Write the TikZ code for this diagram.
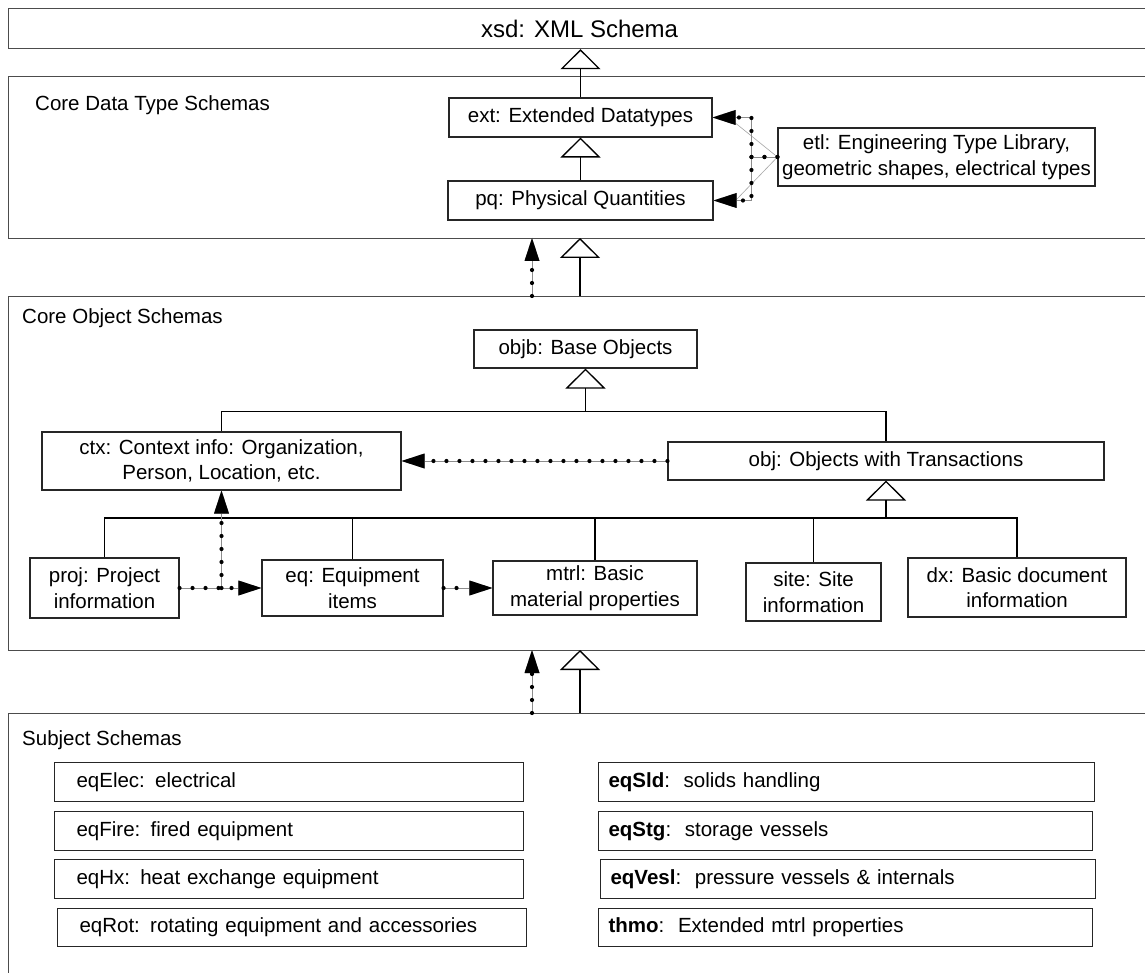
\documentclass[tikz,border=0pt]{standalone}
\usepackage{fontspec}
\setmainfont{Liberation Sans}
\usetikzlibrary{arrows.meta}
\begin{document}
\begin{tikzpicture}[x=1pt,y=-1pt,
  font=\fontsize{20.5}{25.5}\selectfont,
  every node/.style={inner sep=0pt},
  box/.style={draw=black!85, line width=1.1pt, fill=white, align=center},
  frame/.style={draw=black!70, line width=1.2pt, anchor=north west, minimum width=1142pt},
  heading/.style={anchor=west},
  sboxL/.style={draw=black!85, line width=1.1pt, anchor=north west, minimum height=39pt, inner xsep=22pt, text width=425pt, align=left},
  sboxR/.style={draw=black!85, line width=1.1pt, anchor=north west, minimum height=39pt, inner xsep=10pt, text width=476pt, align=left},
  gen/.style={draw=black, line width=1.3pt, -{Triangle[open,length=20pt,width=40pt,line width=1.3pt]}},
  dep/.style={draw=black, line width=4.2pt, line cap=round, dash pattern=on 0pt off 13pt,
    preaction={draw=black!45, line width=0.7pt, solid},
    -{Triangle[length=23pt,width=15pt,line width=0pt]}},
  link/.style={draw=black, line width=1.2pt},
  faint/.style={draw=black!35, line width=0.6pt},
]
\useasboundingbox (0,0) rectangle (1145,973);
\fill[white] (0,0) rectangle (1145,973);

% frames
\node[frame, minimum height=40pt, font=\fontsize{24}{28}\selectfont] (xsd) at (8,8) {xsd: XML Schema};
\node[frame, minimum height=162pt] (coredt) at (8,76) {};
\node[frame, minimum height=354pt] (coreobj) at (8,296) {};
\node[frame, minimum height=290pt] (subj) at (8,713) {};

\node[heading] (hCD) at (35,105) {Core Data Type Schemas};
\node[heading] (hCO) at (22,318) {Core Object Schemas};
\node[heading] (hSS) at (22,740) {Subject Schemas};

% core data types
\node[box, minimum width=263pt, minimum height=39pt] (ext) at (580.5,117.5) {ext: Extended Datatypes};
\node[box, minimum width=265pt, minimum height=39pt] (pq) at (580.5,200.5) {pq: Physical Quantities};
\node[box, minimum width=317pt, minimum height=58pt] (etl) at (936.5,157) {etl: Engineering Type Library,\\geometric shapes, electrical types};

\draw[gen] (ext.north) -- (xsd.south -| ext.north);
\draw[gen] (pq.north) -- (ext.south -| pq.north);
\draw[faint] (etl.west) -- ([shift={(11,-4)}]ext.east);
\draw[faint] (etl.west) -- ([xshift=22pt]pq.east);
\draw[dep] (etl.west) -- ++(-26,0) |- (ext.east);
\draw[dep] (etl.west) -- ++(-26,0) |- (pq.east);

% between core data and core object
\coordinate (dA) at (532,296);
\coordinate (dB) at (532,238);
\coordinate (gA) at (580,296);
\coordinate (gB) at (580,238);
\draw[dep] (dA) -- (dB);
\draw[gen] (gA) -- (gB);

% core objects
\node[box, minimum width=223pt, minimum height=38pt] (objb) at (585.5,349) {objb: Base Objects};
\node[box, minimum width=359pt, minimum height=58pt] (ctx) at (221.5,461) {ctx: Context info: Organization,\\Person, Location, etc.};
\node[box, minimum width=436pt, minimum height=38pt] (obj) at (886,461) {obj: Objects with Transactions};
\node[box, minimum width=149pt, minimum height=60pt] (proj) at (104.5,588) {proj: Project\\information};
\node[box, minimum width=181pt, minimum height=56pt] (eq) at (352.5,588) {eq: Equipment\\items};
\node[box, minimum width=204pt, minimum height=54pt] (mtrl) at (595,588) {mtrl: Basic\\material properties};
\node[box, minimum width=135pt, minimum height=58pt] (site) at (813.5,592) {site: Site\\information};
\node[box, minimum width=218pt, minimum height=59pt] (dx) at (1017,587.5) {dx: Basic document\\information};

\path (objb.south) ++(0,43) coordinate (b1);
\draw[link] (ctx.north) |- (b1) -| (obj.north);
\draw[gen] (b1) -- (objb.south);

\coordinate (b2) at (886,518);
\draw[link] (proj.north) |- (b2) -| (dx.north);
\draw[link] (eq.north) -- (eq.north |- b2);
\draw[link] (mtrl.north) -- (mtrl.north |- b2);
\draw[link] (site.north) -- (site.north |- b2);
\draw[gen] (b2) -- (obj.south);

\draw[dep] (obj.west) -- (ctx.east);
\draw[dep] (proj.east) -- (eq.west);
\draw[dep] (ctx.south |- proj.east) -- (ctx.south);
\draw[dep] (eq.east) -- (mtrl.west);

% between core object and subject
\coordinate (dC) at (532,713);
\coordinate (dD) at (532,650);
\coordinate (gC) at (580,713);
\coordinate (gD) at (580,650);
\draw[dep] (dC) -- (dD);
\draw[gen] (gC) -- (gD);

% subject schemas
\node[sboxL] (eqElec) at (54,762) {eqElec: electrical};
\node[sboxL] (eqFire) at (54,811) {eqFire: fired equipment};
\node[sboxL] (eqHx) at (54,859) {eqHx: heat exchange equipment};
\node[sboxL, minimum height=38pt] (eqRot) at (57,908) {eqRot: rotating equipment and accessories};

\node[sboxR] (eqSld) at (598,762) {\textbf{eqSld}:\ \ solids handling};
\node[sboxR, text width=474pt] (eqStg) at (598,811) {\textbf{eqStg}:\ \ storage vessels};
\node[sboxR, text width=475pt] (eqVesl) at (600,859) {\textbf{eqVesl}:\ \ pressure vessels \& internals};
\node[sboxR, text width=474pt, minimum height=38pt] (thmo) at (598,908) {\textbf{thmo}:\ \ Extended mtrl properties};
\end{tikzpicture}
\end{document}
